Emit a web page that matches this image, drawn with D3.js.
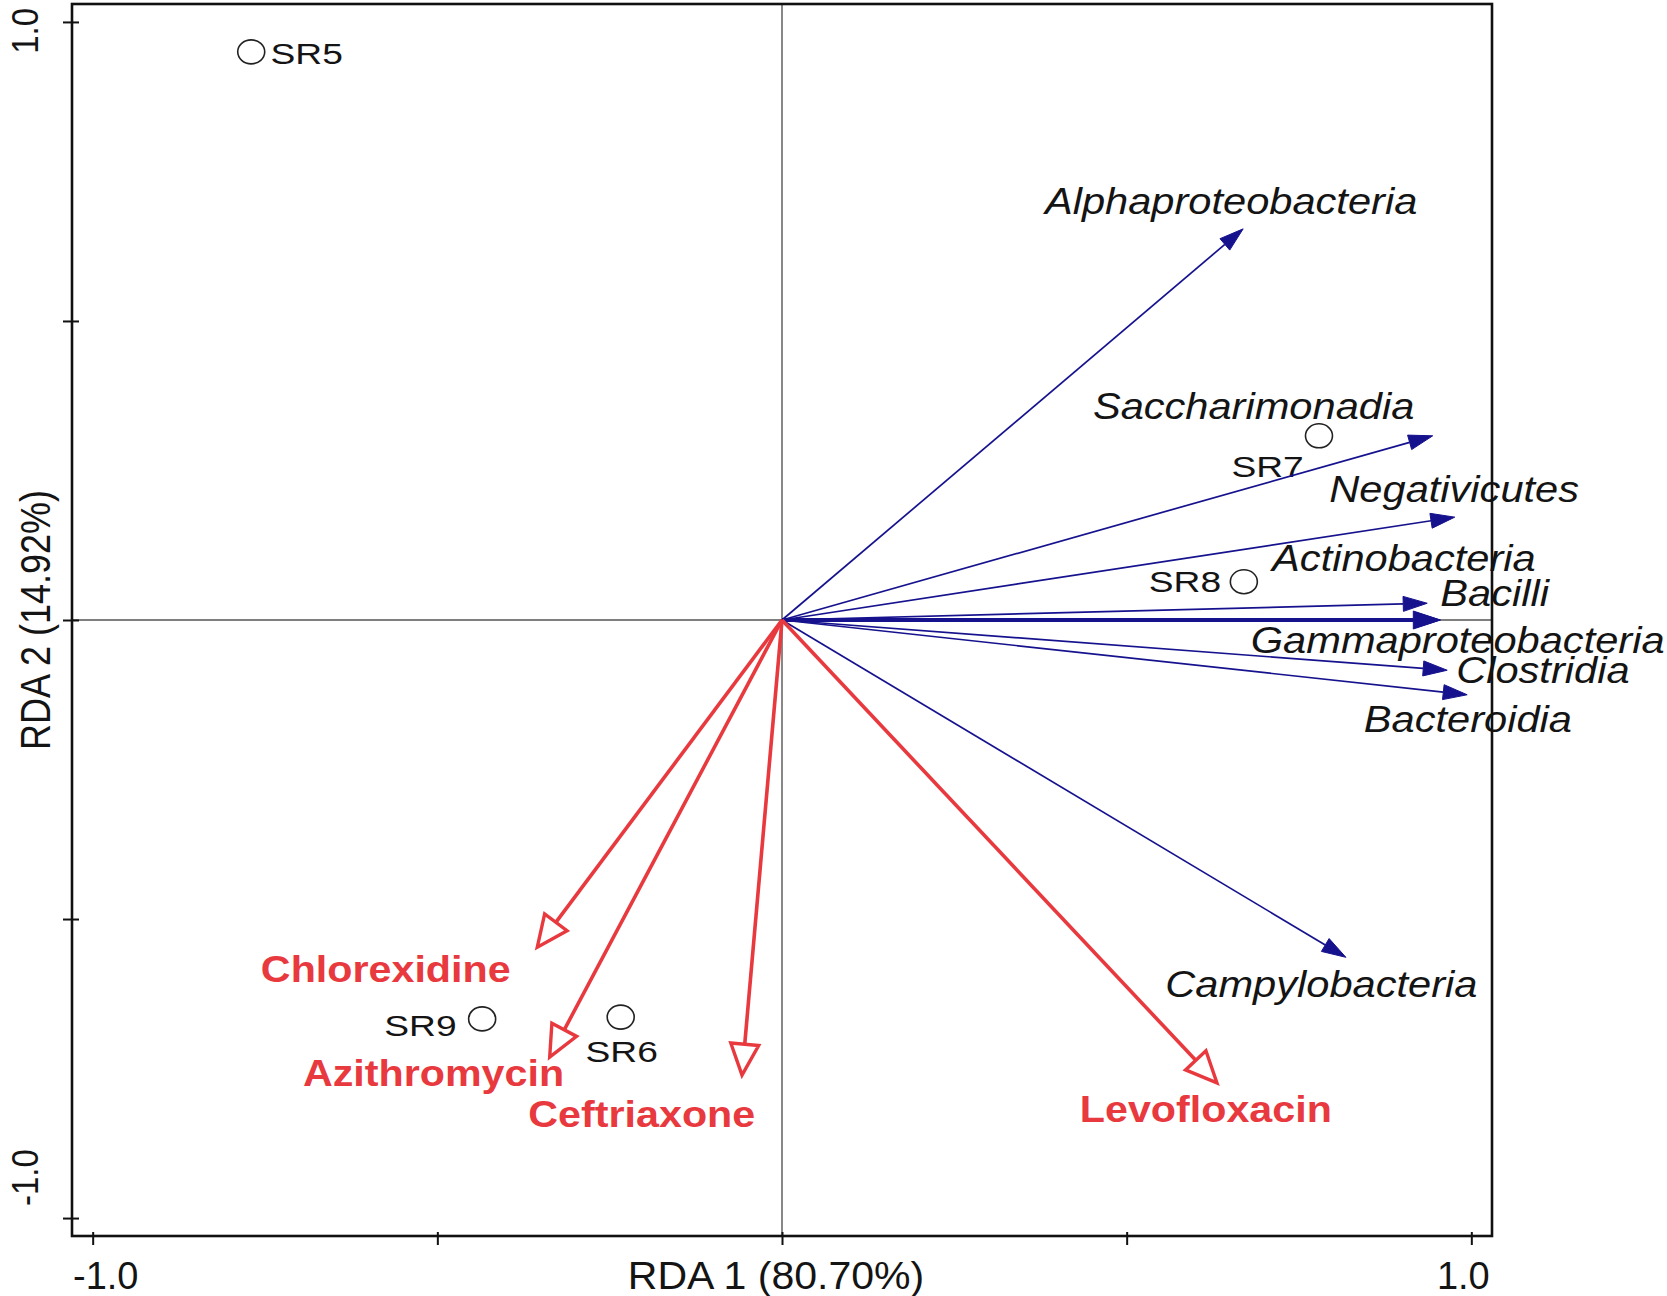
<!DOCTYPE html>
<html>
<head>
<meta charset="utf-8">
<script src="https://cdn.jsdelivr.net/npm/d3@7"></script>
<style>
  html, body { margin: 0; padding: 0; background: #ffffff; }
  svg { display: block; }
  text { font-family: "Liberation Sans", Arial, Helvetica, sans-serif; }
</style>
</head>
<body>
<svg id="chart" width="1667" height="1296"></svg>
<script>
// ---------------- DATA ----------------
// Species (response) arrows: tip coordinates in RDA space
const speciesNames = ["Alphaproteobacteria", "Saccharimonadia", "Negativicutes", "Bacilli",
                      "Actinobacteria", "Gammaproteobacteria", "Clostridia", "Bacteroidia", "Campylobacteria"];
const speciesX = [0.669, 0.944, 0.976, 0.936, 0.955, 0.955, 0.965, 0.994, 0.818];
const speciesY = [0.654, 0.308, 0.172, 0.028, 0.000, 0.000, -0.084, -0.125, -0.564];
// Species label anchors (left / baseline), RDA space
const speciesLabelX = [0.3815, 0.451, 0.794, 0.955, 0.711, 0.680, 0.978, 0.844, 0.556];
const speciesLabelY = [0.679, 0.336, 0.197, 0.024, 0.082, -0.056, -0.105, -0.187, -0.630];

// Explanatory variables (antibiotics)
const envNames = ["Chlorexidine", "Azithromycin", "Ceftriaxone", "Levofloxacin"];
const envX = [-0.355, -0.337, -0.058, 0.631];
const envY = [-0.547, -0.731, -0.761, -0.774];
const envLabelX = [-0.756, -0.695, -0.368, 0.432];
const envLabelY = [-0.605, -0.779, -0.848, -0.839];

// Samples
const sampleNames = ["SR5", "SR7", "SR8", "SR9", "SR6"];
const sampleX = [-0.770, 0.779, 0.670, -0.435, -0.234];
const sampleY = [0.950, 0.308, 0.064, -0.667, -0.664];
const sampleLabelX = [-0.742, 0.652, 0.532, -0.577, -0.285];
const sampleLabelY = [0.930, 0.239, 0.047, -0.696, -0.739];

// Axes
const tickValues = [-1.0, -0.5, 0, 0.5, 1.0];
const tickLabels = ["-1.0", "1.0"];
const xTitle = "RDA 1 (80.70%)";
const yTitle = "RDA 2 (14.92%)";

// ---------------- DRAWING ----------------
const svg = d3.select("#chart");
const frame = { left: 72, right: 1492, top: 4, bottom: 1236 };

const x = d3.scaleLinear().domain([-1.03, 1.03]).range([frame.left, frame.right]);
const y = d3.scaleLinear().domain([-1.03, 1.03]).range([frame.bottom, frame.top]);

const BLUE = "#16128e";
const RED = "#e8393e";
const TEXT = "#141414";
const thickArrows = new Set(["Gammaproteobacteria"]);

// centre cross lines
svg.append("line")
  .attr("x1", x(0)).attr("x2", x(0))
  .attr("y1", frame.top).attr("y2", frame.bottom)
  .attr("stroke", "#555").attr("stroke-width", 1.4);
svg.append("line")
  .attr("x1", frame.left).attr("x2", frame.right)
  .attr("y1", y(0)).attr("y2", y(0))
  .attr("stroke", "#555").attr("stroke-width", 1.4);

// axes (ticks only)
const xAxis = svg.append("g")
  .attr("transform", `translate(0,${frame.bottom})`)
  .call(d3.axisBottom(x).tickValues(tickValues).tickFormat("").tickSizeInner(9).tickSizeOuter(0));
xAxis.select(".domain").remove();
xAxis.selectAll(".tick line").attr("y1", -4).attr("y2", 9).attr("stroke", "#111").attr("stroke-width", 2);

const yAxis = svg.append("g")
  .attr("transform", `translate(${frame.left},0)`)
  .call(d3.axisLeft(y).tickValues(tickValues).tickFormat("").tickSizeInner(9).tickSizeOuter(0));
yAxis.select(".domain").remove();
yAxis.selectAll(".tick line").attr("x1", 7).attr("x2", -9).attr("stroke", "#111").attr("stroke-width", 2);

// arrow helper
function arrowHead(tx, ty, len, half) {
  const ox = x(0), oy = y(0);
  const dx = tx - ox, dy = ty - oy;
  const d = Math.hypot(dx, dy);
  const ux = dx / d, uy = dy / d;
  const bx = tx - ux * len, by = ty - uy * len;
  const nx = -uy, ny = ux;
  return { base: [bx, by], pts: [[tx, ty], [bx + nx * half, by + ny * half], [bx - nx * half, by - ny * half]] };
}

const species = speciesNames.map((n, i) => ({ name: n, x: speciesX[i], y: speciesY[i], lx: speciesLabelX[i], ly: speciesLabelY[i] }));
const envs = envNames.map((n, i) => ({ name: n, x: envX[i], y: envY[i], lx: envLabelX[i], ly: envLabelY[i] }));
const samples = sampleNames.map((n, i) => ({ name: n, x: sampleX[i], y: sampleY[i], lx: sampleLabelX[i], ly: sampleLabelY[i] }));

// labels (drawn first; arrows over them)
const gLabels = svg.append("g");
gLabels.selectAll("text.sp").data(species).join("text")
  .attr("class", "sp")
  .attr("transform", d => `translate(${x(d.lx)},${y(d.ly)}) scale(1.14,1)`)
  .attr("font-size", 36.5).attr("font-style", "italic").attr("fill", TEXT)
  .text(d => d.name);

gLabels.selectAll("text.env").data(envs).join("text")
  .attr("class", "env")
  .attr("transform", d => `translate(${x(d.lx)},${y(d.ly)}) scale(1.13,1)`)
  .attr("font-size", 36.5).attr("font-weight", "bold").attr("fill", RED)
  .text(d => d.name);

gLabels.selectAll("text.smp").data(samples).join("text")
  .attr("class", "smp")
  .attr("transform", d => `translate(${x(d.lx)},${y(d.ly)}) scale(1.24,1)`)
  .attr("font-size", 30).attr("fill", TEXT)
  .text(d => d.name);

// sample symbols
svg.append("g").selectAll("ellipse").data(samples).join("ellipse")
  .attr("cx", d => x(d.x)).attr("cy", d => y(d.y))
  .attr("rx", 13.5).attr("ry", 12)
  .attr("fill", "none").attr("stroke", "#222").attr("stroke-width", 1.6);

// species arrows
const gSp = svg.append("g");
species.forEach(d => {
  const thick = thickArrows.has(d.name);
  const h = arrowHead(x(d.x), y(d.y), thick ? 27 : 24, thick ? 9 : 7.5);
  gSp.append("line")
    .attr("x1", x(0)).attr("y1", y(0))
    .attr("x2", h.base[0]).attr("y2", h.base[1])
    .attr("stroke", BLUE).attr("stroke-width", thick ? 4.2 : 1.7);
  gSp.append("polygon")
    .attr("points", h.pts.map(p => p.join(",")).join(" "))
    .attr("fill", BLUE).attr("stroke", BLUE).attr("stroke-width", 1);
});

// environmental arrows
const gEnv = svg.append("g");
envs.forEach(d => {
  const h = arrowHead(x(d.x), y(d.y), 31, 14);
  gEnv.append("line")
    .attr("x1", x(0)).attr("y1", y(0))
    .attr("x2", h.base[0]).attr("y2", h.base[1])
    .attr("stroke", RED).attr("stroke-width", 3.6);
  gEnv.append("polygon")
    .attr("points", h.pts.map(p => p.join(",")).join(" "))
    .attr("fill", "#ffffff").attr("stroke", RED).attr("stroke-width", 3.4)
    .attr("stroke-linejoin", "miter");
});

// frame
svg.append("rect")
  .attr("x", frame.left).attr("y", frame.top)
  .attr("width", frame.right - frame.left).attr("height", frame.bottom - frame.top)
  .attr("fill", "none").attr("stroke", "#111").attr("stroke-width", 2.6);

// tick labels
svg.append("text")
  .attr("transform", `translate(${frame.left + 1},${frame.bottom + 53})`)
  .attr("font-size", 38).attr("fill", TEXT).attr("text-anchor", "start")
  .text(tickLabels[0]);
svg.append("text")
  .attr("transform", `translate(${x(1) - 8},${frame.bottom + 53})`)
  .attr("font-size", 38).attr("fill", TEXT).attr("text-anchor", "middle")
  .text(tickLabels[1]);
svg.append("text")
  .attr("transform", `translate(${x(0) - 6},${frame.bottom + 53}) scale(1.08,1)`)
  .attr("font-size", 38).attr("fill", TEXT).attr("text-anchor", "middle")
  .text(xTitle);

svg.append("text")
  .attr("transform", `translate(${frame.left - 34},${frame.top + 4}) scale(1.12,1) rotate(-90)`)
  .attr("font-size", 33).attr("fill", TEXT).attr("text-anchor", "end")
  .text(tickLabels[1]);
svg.append("text")
  .attr("transform", `translate(${frame.left - 34},${y(-1) - 12}) scale(1.12,1) rotate(-90)`)
  .attr("font-size", 33).attr("fill", TEXT).attr("text-anchor", "start")
  .text(tickLabels[0]);
svg.append("text")
  .attr("transform", `translate(${frame.left - 22},${y(0)}) scale(1.18,1) rotate(-90)`)
  .attr("font-size", 36).attr("fill", TEXT).attr("text-anchor", "middle")
  .text(yTitle);
</script>
</body>
</html>
